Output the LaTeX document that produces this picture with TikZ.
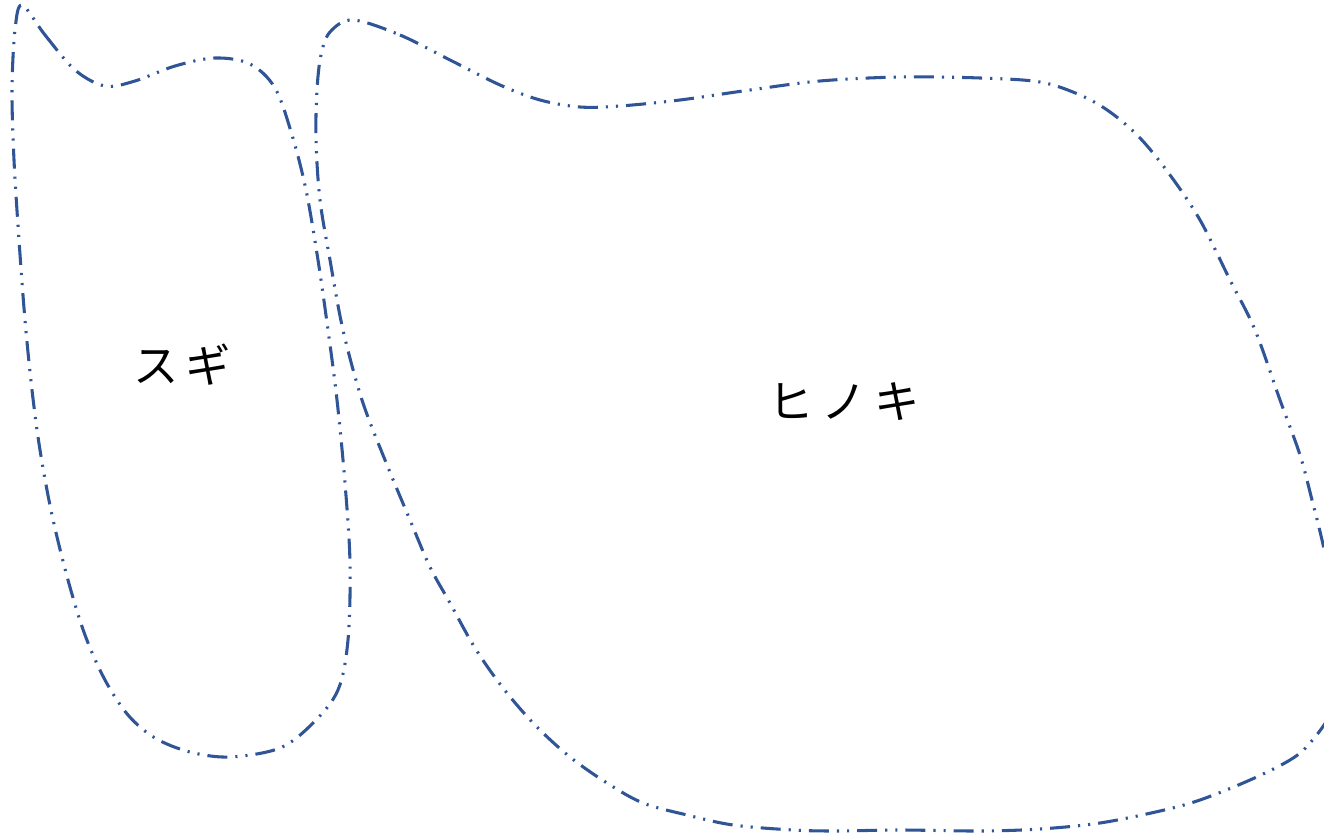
\documentclass[tikz,border=0pt]{standalone}
\usepackage{fontspec}
\newfontfamily\jpfont{Noto Sans CJK JP}
\definecolor{curveblue}{RGB}{47,85,151}
\tikzset{
  region/.style={draw=curveblue, line width=2.3pt, line cap=butt,
    dash pattern=on 15pt off 6pt on 1.6pt off 6pt on 1.6pt off 6pt},
  lbl/.style={font=\jpfont\fontsize{34pt}{38pt}\selectfont, text=black, inner sep=0pt}
}
\begin{document}
\begin{tikzpicture}[x=0.75pt,y=-0.75pt]
\useasboundingbox (0,0) rectangle (1324,837);
\clip (0,0) rectangle (1324,837);
% Sugi region
\draw[region] plot[smooth cycle, tension=0.55] coordinates {
(22,5) (45,35) (75,70) (105,86) (135,81) (175,66) (215,58) (250,64) (275,88) (292,135) (306,190) (318,260) (328,330) (337,400) (345,483) (350,563) (348,640) (338,690) (313,723) (280,748) (230,757) (190,752) (155,738) (128,715) (105,680) (85,635) (68,580) (52,515) (40,450) (32,390) (25,320) (19,240) (14,160) (12,90) (15,30)};
% Hinoki region
\draw[region] plot[smooth cycle, tension=0.55] coordinates {
(353,20) (400,35) (450,60) (500,85) (540,100) (580,107) (620,106) (680,100) (750,90) (820,81) (900,77) (980,78) (1040,82) (1080,95) (1110,112) (1140,138) (1170,175) (1200,220) (1230,280) (1255,330) (1280,400) (1300,455) (1312,500) (1322,540) (1335,600) (1340,660) (1332,710) (1310,743) (1290,760) (1250,780) (1200,800) (1160,811) (1100,823) (1040,829) (980,831) (900,830) (837,831) (793,830) (733,825) (687,815) (643,803) (607,783) (570,757) (535,725) (503,688) (475,648) (450,603) (430,567) (410,520) (385,460) (362,400) (343,330) (330,260) (320,200) (316,140) (317,90) (321,55) (330,32)};
\node[lbl] (sugi) at (182,365) {ス\hspace{5pt}ギ};
\node[lbl] (hinoki) at (844,402) {ヒ\hspace{6pt}ノ\hspace{6pt}キ};
\end{tikzpicture}
\end{document}
